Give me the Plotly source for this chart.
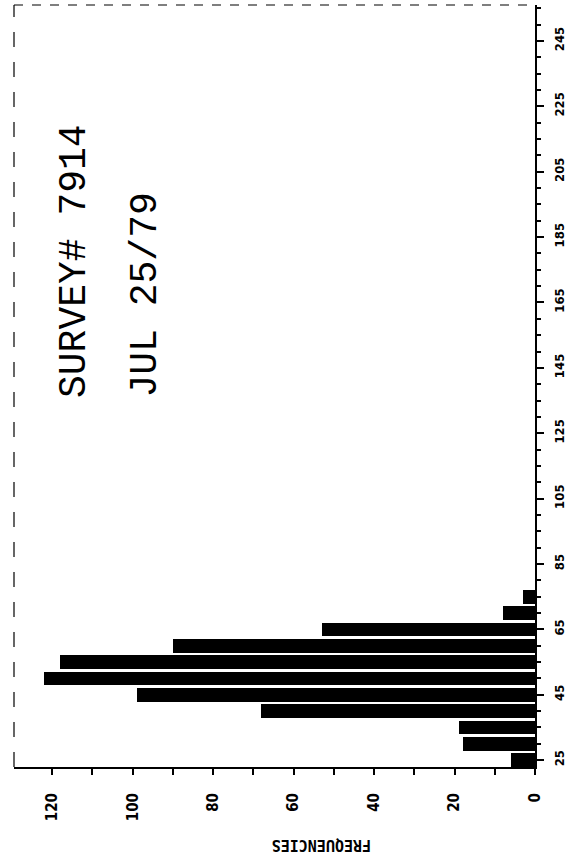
import plotly.graph_objects as go

lengths = [25, 30, 35, 40, 45, 50, 55, 60, 65, 70, 75]
frequencies = [6, 18, 19, 68, 99, 122, 118, 90, 53, 8, 3]
length_ticks = [25, 45, 65, 85, 105, 125, 145, 165, 185, 205, 225, 245]
freq_ticks = [0, 20, 40, 60, 80, 100, 120]
title_line1 = "SURVEY# 7914"
title_line2 = "JUL 25/79"
axis_title = "FREQUENCIES"

W, H = 566, 858
ML, MR, MT, MB = 14, 31, 5, 91
pw = W - ML - MR
ph = H - MT - MB

def px(x):
    return (x - ML) / pw

def py(y):
    return (H - MB - y) / ph

fam = "DejaVu Sans Condensed, Liberation Sans Narrow, DejaVu Sans"
xtick_font = dict(family=fam, size=15, color="black", weight="bold")
ytick_font = dict(family=fam, size=13, color="black", weight="bold")

fig = go.Figure()
fig.add_trace(go.Bar(
    x=frequencies, y=lengths, orientation="h",
    marker=dict(color="black", line=dict(width=0)),
    width=4.2,
))

fig.update_layout(
    width=W, height=H,
    margin=dict(l=ML, r=MR, t=MT, b=MB, autoexpand=False),
    paper_bgcolor="white", plot_bgcolor="white",
    showlegend=False,
    bargap=0,
    xaxis=dict(
        range=[129.5, 0], showgrid=False, zeroline=False, automargin=False,
        showline=True, linecolor="black", linewidth=2,
        ticks="outside", ticklen=6, tickwidth=2, tickcolor="black",
        tickvals=freq_ticks, ticktext=[str(v) for v in freq_ticks],
        tickangle=-90, tickfont=xtick_font, ticklabelstandoff=12,
        minor=dict(dtick=10, tick0=0, ticks="outside", ticklen=6, tickwidth=2, tickcolor="black", showgrid=False),
    ),
    yaxis=dict(
        range=[22.9, 256.0], side="right", showgrid=False, zeroline=False, automargin=False,
        showline=True, linecolor="black", linewidth=2,
        ticks="outside", ticklen=7, tickwidth=2, tickcolor="black",
        tickvals=length_ticks, ticktext=[str(v) for v in length_ticks],
        tickangle=-90, tickfont=ytick_font, ticklabelstandoff=4,
        minor=dict(dtick=5, tick0=25, ticks="outside", ticklen=4, tickwidth=1.5, tickcolor="black", showgrid=False),
    ),
)

# top and left frame lines (thin, dashed like the scan)
fig.add_shape(type="line", xref="paper", yref="paper", x0=0, x1=1, y0=1, y1=1,
              line=dict(color="black", width=1.2, dash="dash"))
fig.add_shape(type="line", xref="paper", yref="paper", x0=0, x1=0, y0=0, y1=1,
              line=dict(color="black", width=1.2, dash="longdash"))

title_font = dict(family="Liberation Mono, DejaVu Sans Mono", size=38, color="black")
fig.add_annotation(text=title_line1, xref="paper", yref="paper", x=px(74), y=py(400),
                   xanchor="center", yanchor="bottom", textangle=-90, showarrow=False, font=title_font)
fig.add_annotation(text=title_line2, xref="paper", yref="paper", x=px(145), y=py(400),
                   xanchor="center", yanchor="bottom", textangle=-90, showarrow=False, font=title_font)
fig.add_annotation(text=axis_title, xref="paper", yref="paper", x=px(322), y=py(845),
                   xanchor="center", yanchor="middle", textangle=180, showarrow=False,
                   font=dict(family="DejaVu Sans Mono", size=15, color="black", weight="bold"))

fig.write_html("out.html", config={"displayModeBar": False},
               post_script="document.body.style.margin='0px';document.body.style.padding='0px';")
